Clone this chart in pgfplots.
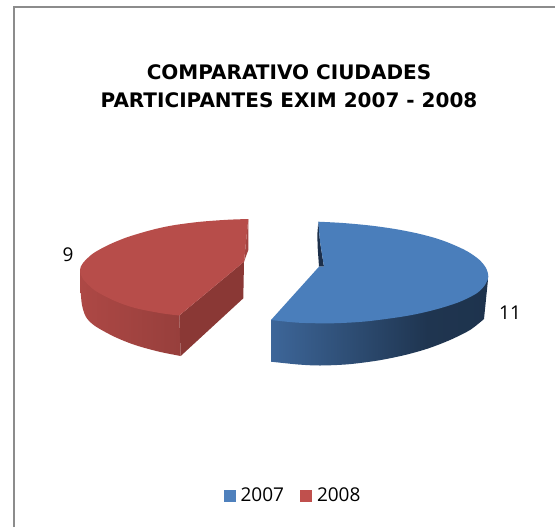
\documentclass[border=0pt]{standalone}
\usepackage{fontspec}
\setmainfont{Open Sans}
\newfontfamily\titlefont{DejaVu Sans}
\usepackage{pgfplots}
\pgfplotsset{compat=1.18}
\definecolor{frameg}{HTML}{8C8C8C}
\definecolor{bluetop}{HTML}{4A7EBB}
\definecolor{redtop}{HTML}{B74D4A}
\definecolor{redface}{HTML}{8A3835}
\definecolor{redsliv}{HTML}{A34441}
\definecolor{bluedark}{HTML}{1C2F4A}
\definecolor{legblue}{HTML}{4F81BD}
\definecolor{legred}{HTML}{C0504D}
\definecolor{bsA}{HTML}{3D6699}
\definecolor{bsB}{HTML}{1F3550}
\definecolor{bsC}{HTML}{1E334D}
\definecolor{rsA}{HTML}{AD4845}
\definecolor{rsB}{HTML}{973F3C}
\pgfdeclarehorizontalshading{blueside}{100bp}{color(0bp)=(bsA); color(25bp)=(bsA); color(61bp)=(bsB); color(75bp)=(bsC); color(100bp)=(bsC)}
\pgfdeclarehorizontalshading{redside}{100bp}{color(0bp)=(rsA); color(25bp)=(rsA); color(75bp)=(rsB); color(100bp)=(rsB)}
\begin{document}
\begin{tikzpicture}
\begin{axis}[
  hide axis, scale only axis, width=557pt, height=527pt,
  xmin=0, xmax=557, ymin=0, ymax=527, y dir=reverse, clip=false,
  area legend,
  legend columns=2,
  legend cell align=left,
  legend style={draw=none, fill=none, at={(axis cs:293,495.5)}, anchor=center,
    font=\fontsize{19}{20}\selectfont,
    /tikz/every odd column/.append style={column sep=3pt},
    /tikz/every even column/.append style={column sep=14pt},
    inner sep=0pt},
  legend image code/.code={\fill[#1] (0pt,-6pt) rectangle (12pt,6pt);},
]
\path (axis cs:0,0) rectangle (axis cs:557,527);
\addplot[draw=none, fill=legblue] coordinates {(100,100)};
\addplot[draw=none, fill=legred] coordinates {(100,100)};
\legend{2007,2008}
% frame
\addplot[forget plot, frameg, line width=2.4pt, line cap=butt] coordinates {(14,527) (14,7) (555,7)};
% red side arc
\addplot[forget plot, draw=none, shading=redside, smooth] coordinates {(80.5,290) (82,305) (86,317) (95,326) (115,337) (135,345) (158.3,351.5) (180.7,356)} -- (axis cs:179.3,315) -- (axis cs:80,270) -- cycle;
% red inner faces
\addplot[forget plot, draw=none, fill=redface] coordinates {(179.3,315.5) (244,261.7) (243.3,298.3) (180.7,356)} -- cycle;
\addplot[forget plot, draw=none, fill=redsliv] coordinates {(248.3,219) (248.3,250) (244,261.7)} -- cycle;
% red top
\addplot[forget plot, draw=none, fill=redtop, smooth] coordinates {(248.3,219) (226.7,219.8) (200,221.8) (175,225) (158.3,228.3) (141.7,232.7) (125,238) (108.3,245) (93,253.5) (83,263) (80,270) (83,279) (95,290.5) (115,301) (135,308) (161.7,313.3) (179.3,315.5)} -- (axis cs:244,261.7) -- cycle;
% blue side
\addplot[forget plot, draw=none, shading=blueside, smooth] coordinates {(271,361.7) (298.3,364.5) (320,365.5) (348,364.3) (378,360.5) (405,355) (428,348.5) (450,340) (470,330) (484,319)} -- (axis cs:488.3,276.7) -- (axis cs:271,320) -- cycle;
% blue sliver
\addplot[forget plot, draw=none, fill=bluedark] coordinates {(318.3,221.7) (317.3,235) (317.7,248) (319,266.7) (324,266.7) (320,241.7)} -- cycle;
% blue top
\addplot[forget plot, draw=none, fill=bluetop, smooth] coordinates {(318.3,221.7) (343,223) (370,225.5) (395,229) (417,233.3) (435,238) (450,243.3) (466.7,251) (479,259.5) (486,268) (488.3,276.7) (485,285) (476.7,293.3) (460,301.7) (440,308.3) (420,313.3) (400,317) (365,321.5) (331.7,323.3) (298.3,322.7) (271,320)} -- (axis cs:319,266.7) -- (axis cs:324,266.7) -- (axis cs:320,241.7) -- cycle;
% title
\node[font=\fontsize{20}{28}\selectfont\titlefont\bfseries, align=center, anchor=center] at (axis cs:289,86) {COMPARATIVO CIUDADES\\PARTICIPANTES EXIM 2007 - 2008};
% data labels
\node[font=\fontsize{19}{20}\selectfont] at (axis cs:68,255) {9};
\node[font=\fontsize{19}{20}\selectfont] at (axis cs:510,313) {11};
\end{axis}
\end{tikzpicture}
\end{document}
